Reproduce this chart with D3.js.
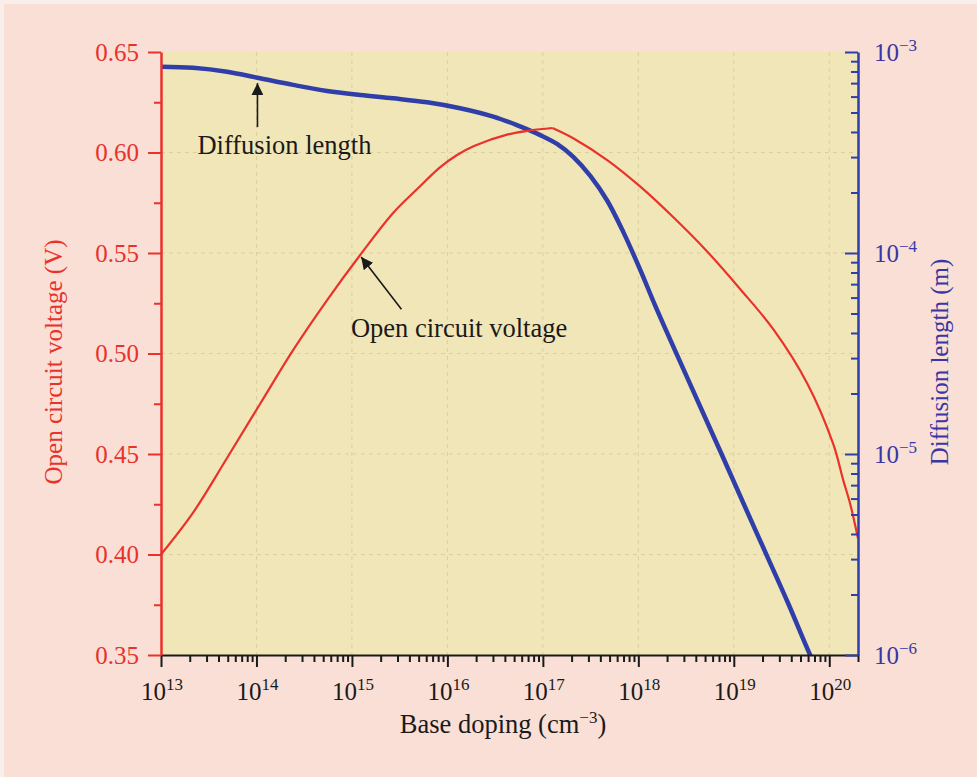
<!DOCTYPE html>
<html>
<head>
<meta charset="utf-8">
<script src="https://cdn.jsdelivr.net/npm/d3@7"></script>
<style>
  html, body { margin: 0; padding: 0; background: #f8efeb; }
  svg { display: block; }
</style>
</head>
<body>
<div id="chart"></div>
<script>
// Open circuit voltage vs base doping (left axis, V); peak split so the kink stays sharp
const vocDoping = [1e13, 2.16e13, 4.92e13, 1.09e14, 2.42e14, 5.5e14, 1.22e15, 2.7e15, 4.82e15,
  8.3e15, 1.24e16, 1.9e16, 4.3e16, 7.4e16, 1.26e17, 2.1e17, 4.8e17, 1.05e18, 2.3e18, 5.2e18,
  1.17e19, 2.6e19, 5.9e19, 1.1e20, 1.4e20, 1.66e20, 2.0e20];
const vocValues = [0.400, 0.4207, 0.448, 0.4749, 0.5017, 0.5266, 0.549, 0.5699, 0.5818,
  0.5925, 0.5985, 0.6032, 0.609, 0.611, 0.6122, 0.607, 0.596, 0.583, 0.568, 0.551,
  0.532, 0.512, 0.485, 0.455, 0.437, 0.425, 0.408];
const vocPeakIndex = 14;

// Diffusion length vs base doping (right axis, m)
const diffDoping = [1e13, 2.16e13, 4.92e13, 1.09e14, 2.42e14, 5.5e14, 1.22e15, 2.7e15, 6.14e15,
  1.36e16, 3.02e16, 5.26e16, 9.4e16, 1.42e17, 2.08e17, 3.14e17, 4.73e17, 6.97e17, 1.05e18,
  1.51e18, 3.34e18, 7.6e18, 1.68e19, 3.65e19, 6.3e19, 8.1e19];
const diffValues = [8.45e-4, 8.35e-4, 7.98e-4, 7.4e-4, 6.86e-4, 6.4e-4, 6.11e-4, 5.88e-4, 5.62e-4,
  5.25e-4, 4.77e-4, 4.34e-4, 3.86e-4, 3.48e-4, 3.01e-4, 2.42e-4, 1.82e-4, 1.27e-4, 8.22e-5,
  5.44e-5, 2.33e-5, 9.77e-6, 4.19e-6, 1.84e-6, 1.0e-6, 7.8e-7];

const vocTicks = [0.35, 0.40, 0.45, 0.50, 0.55, 0.60, 0.65];
const vocMinor = [0.375, 0.425, 0.475, 0.525, 0.575, 0.625];
const diffTicks = [1e-6, 1e-5, 1e-4, 1e-3];
const diffExp = ['−6', '−5', '−4', '−3'];
const dopingTicks = [1e13, 1e14, 1e15, 1e16, 1e17, 1e18, 1e19, 1e20];
const dopingExp = ['13', '14', '15', '16', '17', '18', '19', '20'];

const W = 977, H = 777;
const BG = '#f9dfd5';
const PLOT = '#f1e6b7';
const RED = '#e8322b';
const BLUE = '#2f3ea8';
const BLUE_TXT = '#3a36a3';
const INK = '#1a1a1a';
const SERIF = '"Liberation Serif", "DejaVu Serif", serif';

const x = d3.scaleLog().domain([1e13, 2e20]).range([161, 858]);
const yV = d3.scaleLinear().domain([0.35, 0.65]).range([655, 52]);
const yL = d3.scaleLog().domain([1e-6, 1e-3]).range([655, 52]);
const [x0, x1] = x.range();
const [yb, yt] = yV.range();

const svg = d3.select('#chart').append('svg')
  .attr('width', W).attr('height', H)
  .attr('viewBox', `0 0 ${W} ${H}`);

svg.append('rect').attr('x', 4).attr('y', 4).attr('width', W - 4).attr('height', H - 4).attr('fill', BG);
svg.append('rect').attr('x', x0).attr('y', yt).attr('width', x1 - x0).attr('height', yb - yt).attr('fill', PLOT);

// grid
const grid = svg.append('g').attr('stroke', '#d9cf9f').attr('stroke-width', 1).attr('stroke-dasharray', '4,4');
grid.selectAll('.vg').data(dopingTicks.slice(1)).join('line')
  .attr('x1', d => x(d)).attr('x2', d => x(d)).attr('y1', yt).attr('y2', yb);
grid.selectAll('.hg').data(vocTicks.slice(1, -1)).join('line')
  .attr('x1', x0).attr('x2', x1).attr('y1', d => yV(d)).attr('y2', d => yV(d));

// curves
svg.append('clipPath').attr('id', 'plotclip')
  .append('rect').attr('x', x0).attr('y', yt).attr('width', x1 - x0).attr('height', yb - yt);

const vocLine = d3.line().x(d => x(d[0])).y(d => yV(d[1])).curve(d3.curveCatmullRom.alpha(0.5));
const diffLine = d3.line().x(d => x(d[0])).y(d => yL(d[1])).curve(d3.curveCatmullRom.alpha(0.5));

svg.append('path')
  .datum(diffDoping.map((d, i) => [d, diffValues[i]]))
  .attr('clip-path', 'url(#plotclip)')
  .attr('d', diffLine)
  .attr('fill', 'none').attr('stroke', BLUE).attr('stroke-width', 4.5);

const vocPts = vocDoping.map((d, i) => [d, vocValues[i]]);
svg.selectAll('.voc')
  .data([vocPts.slice(0, vocPeakIndex + 1), vocPts.slice(vocPeakIndex)])
  .join('path')
  .attr('d', vocLine)
  .attr('fill', 'none').attr('stroke', RED).attr('stroke-width', 2.2)
  .attr('stroke-linejoin', 'round');

// bottom axis
const minorX = [];
for (let e = 13; e <= 20; e++) for (let m = 2; m <= 9; m++) {
  const v = m * Math.pow(10, e);
  if (v <= 2.0001e20) minorX.push(v);
}
svg.append('g').attr('transform', `translate(0,${yb})`)
  .call(d3.axisBottom(x).tickValues(minorX).tickSize(7).tickSizeOuter(0).tickFormat(''))
  .call(g => g.select('.domain').remove())
  .call(g => g.selectAll('line').attr('stroke', INK).attr('stroke-width', 2));
svg.append('g').attr('transform', `translate(0,${yb})`)
  .call(d3.axisBottom(x).tickValues(dopingTicks).tickSize(12).tickSizeOuter(0).tickFormat(''))
  .call(g => g.select('.domain').attr('stroke', INK).attr('stroke-width', 2))
  .call(g => g.selectAll('line').attr('stroke', INK).attr('stroke-width', 2));

const xl = svg.append('g').attr('font-family', SERIF).attr('fill', INK);
dopingTicks.forEach((d, i) => {
  const t = xl.append('text').attr('x', x(d) + 1).attr('y', 700).attr('text-anchor', 'middle').attr('font-size', 25);
  t.append('tspan').text('10');
  t.append('tspan').attr('dy', -10).attr('font-size', 17).text(dopingExp[i]);
});
svg.append('text').attr('x', 503).attr('y', 733).attr('text-anchor', 'middle')
  .attr('font-family', SERIF).attr('font-size', 26.5).attr('fill', INK)
  .call(t => {
    t.append('tspan').text('Base doping (cm');
    t.append('tspan').attr('dy', -10).attr('font-size', 17).text('−3');
    t.append('tspan').attr('dy', 10).text(')');
  });

// left axis
svg.append('g').attr('transform', `translate(${x0},0)`)
  .call(d3.axisLeft(yV).tickValues(vocMinor).tickSize(7).tickSizeOuter(0).tickFormat(''))
  .call(g => g.select('.domain').remove())
  .call(g => g.selectAll('line').attr('stroke', RED).attr('stroke-width', 2));
svg.append('g').attr('transform', `translate(${x0},0)`)
  .call(d3.axisLeft(yV).tickValues(vocTicks).tickSize(13).tickSizeOuter(0).tickPadding(9).tickFormat(d3.format('.2f')))
  .call(g => g.select('.domain').attr('stroke', RED).attr('stroke-width', 2.5))
  .call(g => g.selectAll('line').attr('stroke', RED).attr('stroke-width', 2))
  .call(g => g.selectAll('text').attr('fill', RED).attr('font-family', SERIF).attr('font-size', 25));
svg.append('text')
  .attr('transform', `translate(62,362) rotate(-90)`)
  .attr('text-anchor', 'middle')
  .attr('font-family', SERIF).attr('font-size', 25).attr('fill', RED)
  .text('Open circuit voltage (V)');

// right axis
const minorR = [];
for (let e = -6; e <= -4; e++) for (let m = 2; m <= 9; m++) minorR.push(m * Math.pow(10, e));
svg.append('g').attr('transform', `translate(${x1},0)`)
  .call(d3.axisRight(yL).tickValues(minorR).tickSizeInner(-7).tickSizeOuter(0).tickFormat(''))
  .call(g => g.select('.domain').remove())
  .call(g => g.selectAll('line').attr('stroke', BLUE).attr('stroke-width', 2));
svg.append('g').attr('transform', `translate(${x1},0)`)
  .call(d3.axisRight(yL).tickValues(diffTicks).tickSizeInner(-13).tickSizeOuter(0).tickFormat(''))
  .call(g => g.select('.domain').attr('stroke', BLUE).attr('stroke-width', 2.5))
  .call(g => g.selectAll('line').attr('stroke', BLUE).attr('stroke-width', 2));

const rl = svg.append('g').attr('font-family', SERIF).attr('fill', BLUE_TXT);
diffTicks.forEach((d, i) => {
  const t = rl.append('text').attr('x', x1 + 16).attr('y', yL(d) + 9).attr('font-size', 25);
  t.append('tspan').text('10');
  t.append('tspan').attr('dy', -10).attr('font-size', 17).text(diffExp[i]);
});
svg.append('text')
  .attr('transform', `translate(948,362) rotate(-90)`)
  .attr('text-anchor', 'middle')
  .attr('font-family', SERIF).attr('font-size', 25).attr('fill', BLUE_TXT)
  .text('Diffusion length (m)');

// annotations
svg.append('defs').append('marker')
  .attr('id', 'arrow').attr('viewBox', '0 0 12 12').attr('refX', 12).attr('refY', 6)
  .attr('markerWidth', 12).attr('markerHeight', 12).attr('orient', 'auto-start-reverse')
  .attr('markerUnits', 'userSpaceOnUse')
  .append('path').attr('d', 'M0,0 L12,6 L0,12 z').attr('fill', INK);

const ann = svg.append('g').attr('font-family', SERIF).attr('font-size', 26.5).attr('fill', INK);
ann.append('line')
  .attr('x1', x(1e14) + 1).attr('y1', yL(4.23e-4))
  .attr('x2', x(1e14) + 1).attr('y2', yL(7.0e-4))
  .attr('stroke', INK).attr('stroke-width', 1.6).attr('marker-end', 'url(#arrow)');
ann.append('text').attr('x', x(1e14) - 59).attr('y', yV(0.6) + 1).text('Diffusion length');

ann.append('line')
  .attr('x1', x(3.3e15)).attr('y1', yV(0.522))
  .attr('x2', x(1.25e15)).attr('y2', yV(0.548))
  .attr('stroke', INK).attr('stroke-width', 1.6).attr('marker-end', 'url(#arrow)');
ann.append('text').attr('x', x(1.0e15) - 1).attr('y', yV(0.508)).text('Open circuit voltage');
</script>
</body>
</html>
